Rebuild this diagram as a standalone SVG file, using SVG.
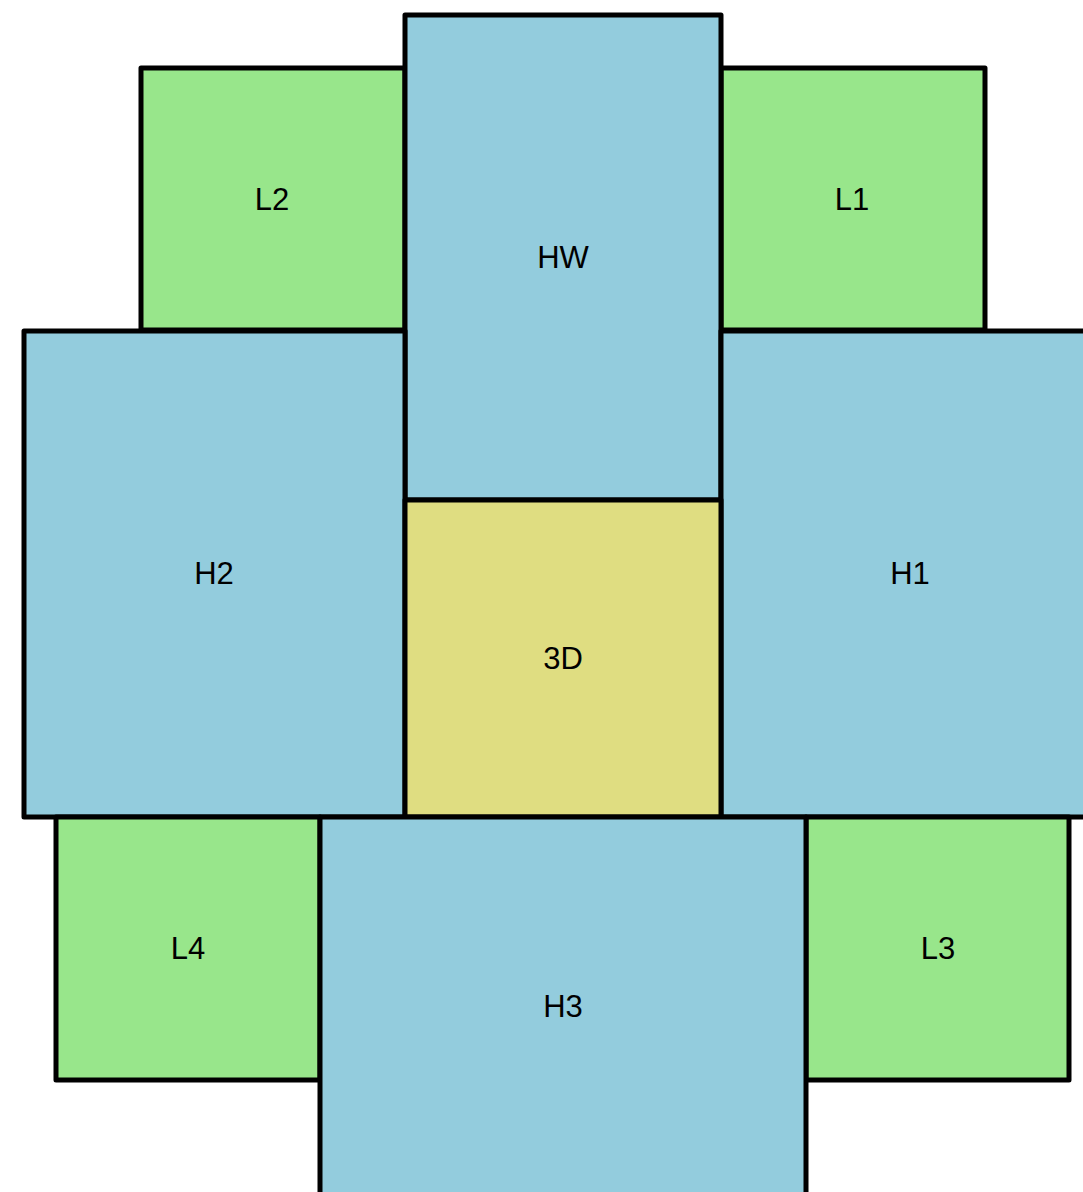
<svg xmlns="http://www.w3.org/2000/svg" width="1083" height="1192" viewBox="0 0 1083 1192">
<style>
rect{stroke:#000;stroke-width:5;stroke-linejoin:round}
.b{fill:#93CCDD}.g{fill:#98E68B}.y{fill:#DFDD81}
text{font-family:"Liberation Sans",Arial,sans-serif;font-size:31px;fill:#000;text-anchor:middle}
</style>
<rect width="1083" height="1192" fill="#fff" style="stroke:none"/>
<g id="L2"><rect class="g" x="141" y="68" width="264" height="262"/><text x="272" y="210">L2</text></g>
<g id="L1"><rect class="g" x="721" y="68" width="264" height="262"/><text x="852" y="210">L1</text></g>
<g id="HW"><rect class="b" x="405" y="15" width="316" height="485"/><text x="563" y="268">HW</text></g>
<g id="H2"><rect class="b" x="24" y="331" width="381" height="486"/><text x="214" y="584">H2</text></g>
<g id="H1"><rect class="b" x="721" y="331" width="380" height="486"/><text x="910" y="584">H1</text></g>
<g id="3D"><rect class="y" x="405" y="500" width="316" height="317"/><text x="563" y="669">3D</text></g>
<g id="L4"><rect class="g" x="56" y="817" width="264" height="263"/><text x="188" y="959">L4</text></g>
<g id="L3"><rect class="g" x="806" y="817" width="263" height="263"/><text x="938" y="959">L3</text></g>
<g id="H3"><rect class="b" x="320" y="817" width="486" height="400"/><text x="563" y="1017">H3</text></g>
<g id="connectors"/>
</svg>
